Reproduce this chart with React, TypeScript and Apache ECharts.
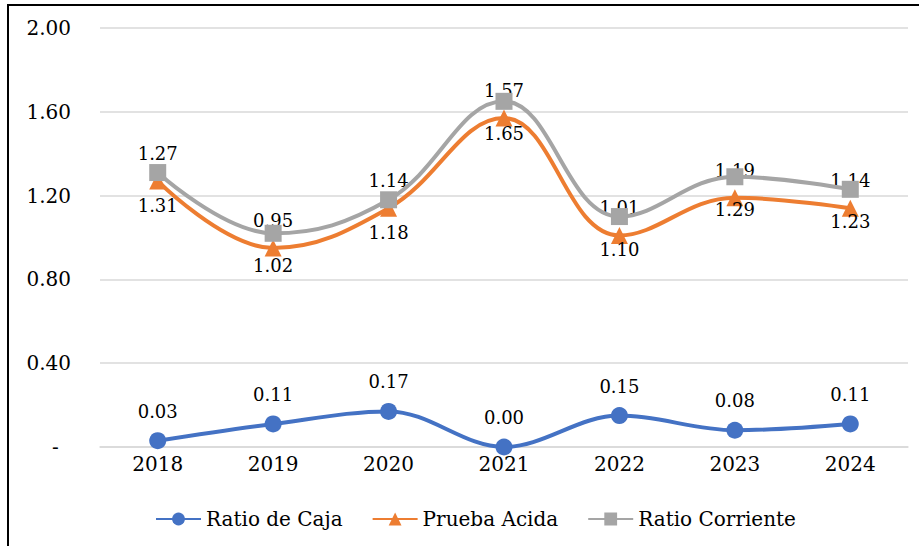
import React, { useEffect, useRef } from "react";
import * as echarts from "echarts";

const years = ["2018", "2019", "2020", "2021", "2022", "2023", "2024"];
const ratioCaja = [0.03, 0.11, 0.17, 0.0, 0.15, 0.08, 0.11];
const pruebaAcida = [1.27, 0.95, 1.14, 1.57, 1.01, 1.19, 1.14];
const ratioCorriente = [1.31, 1.02, 1.18, 1.65, 1.1, 1.29, 1.23];
const yTicks = [0, 0.4, 0.8, 1.2, 1.6, 2.0];

const FONT = "DejaVu Serif";

export default function App() {
  const ref = useRef<HTMLDivElement>(null);
  useEffect(() => {
    if (!ref.current) return;
    const chart = echarts.init(ref.current, undefined, { renderer: "svg" });
    const labelBase = {
      show: true,
      fontFamily: FONT,
      fontSize: 18,
      color: "#000",
      formatter: (p: any) => Number(p.value).toFixed(2),
    };
    chart.setOption({
      animation: false,
      backgroundColor: "#fff",
      textStyle: { fontFamily: FONT },
      graphic: [
        {
          type: "rect",
          shape: { x: 8, y: 5, width: 1000, height: 1000 },
          style: { fill: "none", stroke: "#000", lineWidth: 2 },
          silent: true,
          z: 100,
        },
      ],
      grid: { left: 100, right: 11, top: 28, bottom: 99 },
      legend: {
        bottom: 12,
        left: 150,
        itemWidth: 45,
        itemHeight: 16,
        itemGap: 29,
        textStyle: { fontFamily: FONT, fontSize: 20, color: "#000" },
        data: ["Ratio de Caja", "Prueba Acida", "Ratio Corriente"],
      },
      xAxis: {
        type: "category",
        data: years,
        boundaryGap: true,
        axisLine: { show: true, lineStyle: { color: "#D9D9D9", width: 1.5 } },
        axisTick: { show: false },
        axisLabel: { fontFamily: FONT, fontSize: 20, color: "#000", margin: 7 },
      },
      yAxis: {
        type: "value",
        min: yTicks[0],
        max: yTicks[yTicks.length - 1],
        interval: 0.4,
        axisLine: { show: false },
        axisTick: { show: false },
        splitLine: { lineStyle: { color: "#D9D9D9", width: 1.5 } },
        axisLabel: {
          fontFamily: FONT,
          fontSize: 20,
          color: "#000",
          margin: 29,
          align: "right",
          formatter: (v: number) => (Math.abs(v) < 1e-9 ? "{d|-}" : v.toFixed(2)),
          rich: { d: { fontFamily: FONT, fontSize: 20, color: "#000", width: 19, align: "left" } },
        },
      },
      series: [
        {
          name: "Ratio de Caja",
          type: "line",
          data: ratioCaja,
          smooth: 0.35,
          symbol: "circle",
          symbolSize: 17,
          lineStyle: { color: "#4472C4", width: 4 },
          itemStyle: { color: "#4472C4" },
          label: { ...labelBase, position: "top", distance: 12 },
          z: 2,
        },
        {
          name: "Prueba Acida",
          type: "line",
          data: pruebaAcida,
          smooth: 0.4,
          symbol: "triangle",
          symbolSize: 17,
          lineStyle: { color: "#ED7D31", width: 4 },
          itemStyle: { color: "#ED7D31" },
          label: { ...labelBase, position: "top", distance: 10 },
          z: 3,
        },
        {
          name: "Ratio Corriente",
          type: "line",
          data: ratioCorriente,
          smooth: 0.4,
          symbol: "rect",
          symbolSize: 17,
          lineStyle: { color: "#A5A5A5", width: 4 },
          itemStyle: { color: "#A5A5A5" },
          label: { ...labelBase, position: "bottom", distance: 15 },
          z: 4,
        },
      ],
    });
    return () => chart.dispose();
  }, []);
  return (
    <div
      ref={ref}
      style={{ position: "fixed", left: 0, top: 0, width: 919, height: 546 }}
    />
  );
}
